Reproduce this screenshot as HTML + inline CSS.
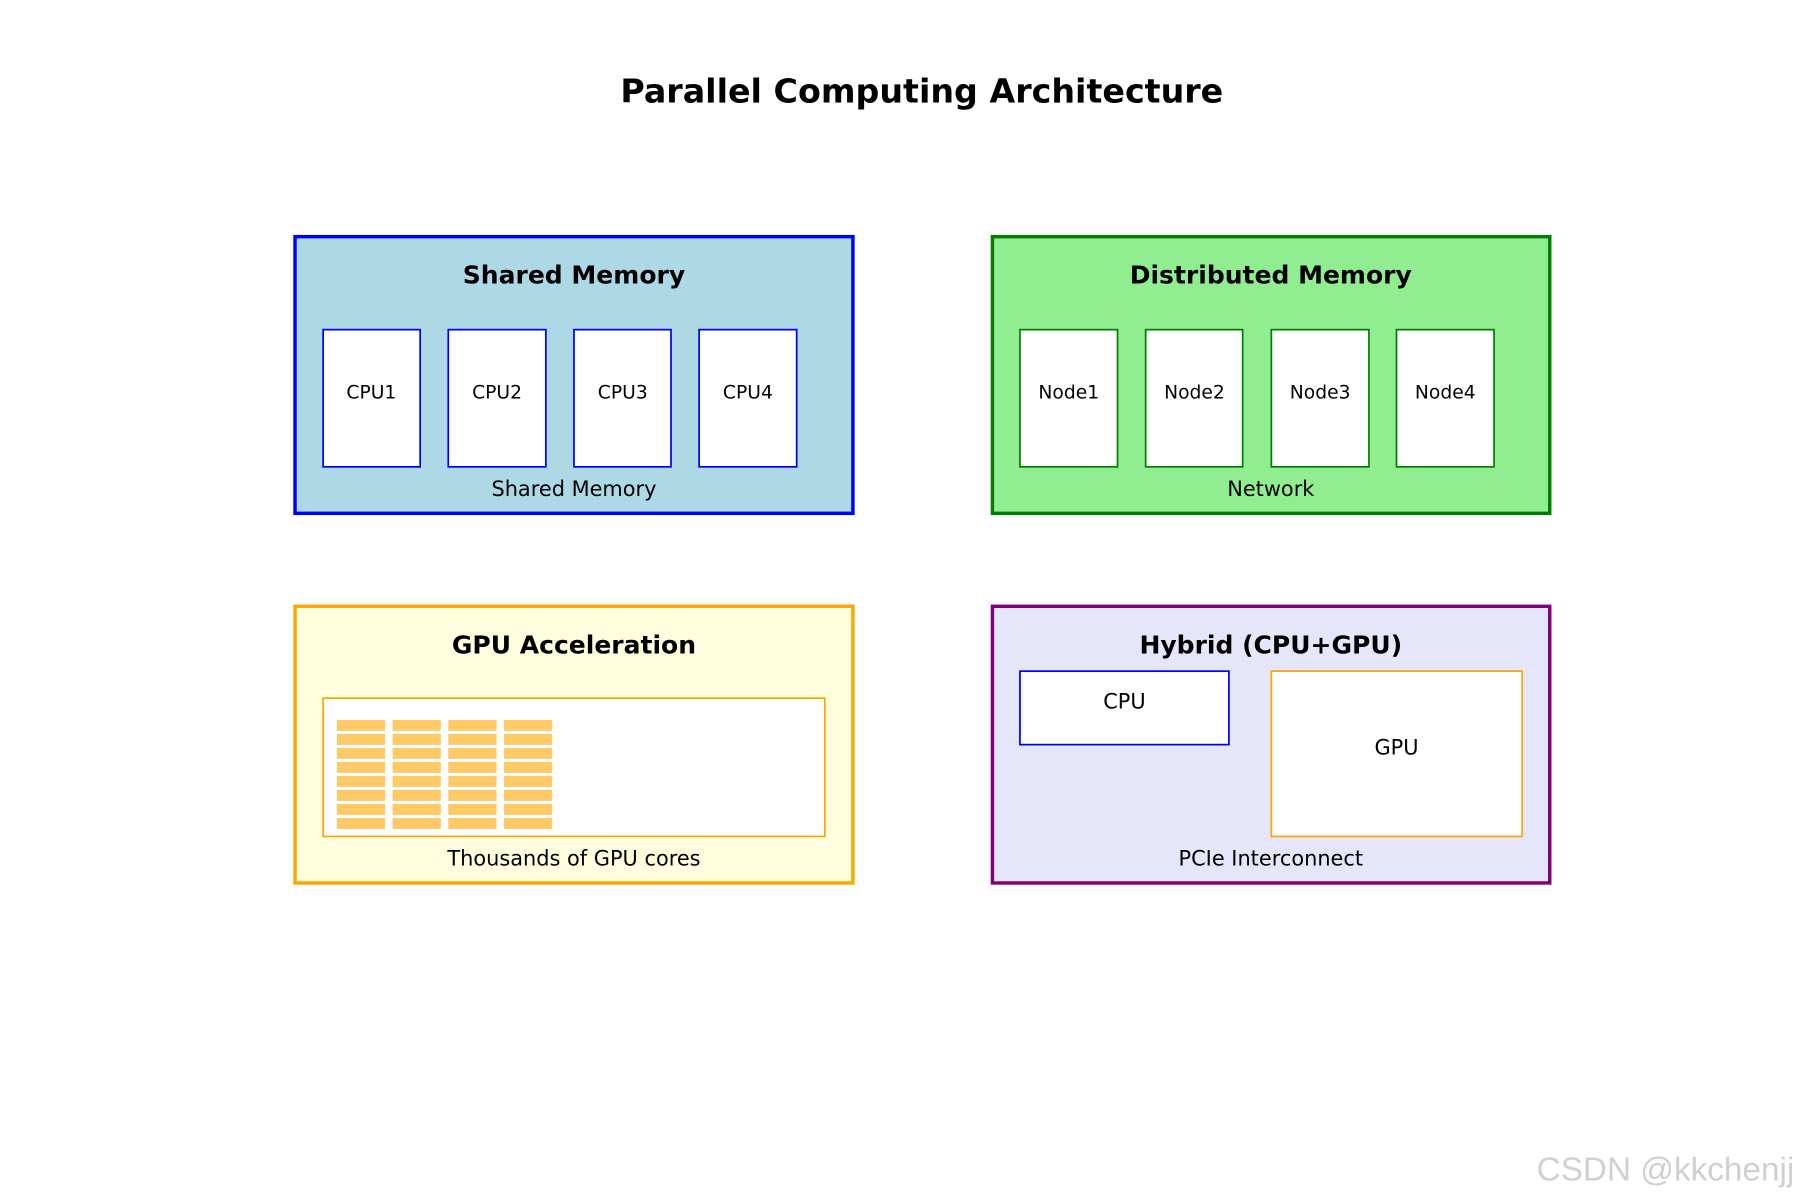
<!DOCTYPE html>
<html><head><meta charset="utf-8"><style>html,body{margin:0;padding:0;background:#fff}svg{display:block}</style></head><body>
<svg width="1800" height="1200" viewBox="0 0 1568 1045" xmlns="http://www.w3.org/2000/svg" font-family="DejaVu Sans, Liberation Sans, sans-serif">
<rect width="1568" height="1045" fill="#fff"/>
<text x="803" y="89" font-size="29" font-weight="bold" text-anchor="middle">Parallel Computing Architecture</text>

<rect x="257" y="206" width="486" height="241" fill="#add8e6" stroke="#0000ff" stroke-width="3"/>
<text x="500" y="247" font-size="21.8" font-weight="bold" text-anchor="middle">Shared Memory</text>
<g fill="#fff" stroke="#0000ff" stroke-width="1.5">
<rect x="281.5" y="287" width="84.5" height="119.5"/><rect x="390.5" y="287" width="85" height="119.5"/><rect x="500" y="287" width="84.5" height="119.5"/><rect x="609" y="287" width="85" height="119.5"/></g>
<g font-size="16.3" text-anchor="middle"><text x="323.5" y="347">CPU1</text><text x="433" y="347">CPU2</text><text x="542.5" y="347">CPU3</text><text x="651.5" y="347">CPU4</text></g>
<text x="500" y="432" font-size="18.2" text-anchor="middle">Shared Memory</text>

<rect x="864.5" y="206" width="485.5" height="241" fill="#90ee90" stroke="#008000" stroke-width="3"/>
<text x="1107" y="247" font-size="21.8" font-weight="bold" text-anchor="middle">Distributed Memory</text>
<g fill="#fff" stroke="#008000" stroke-width="1.5">
<rect x="888.5" y="287" width="85" height="119.5"/><rect x="998" y="287" width="84.5" height="119.5"/><rect x="1107.5" y="287" width="85" height="119.5"/><rect x="1216.5" y="287" width="85" height="119.5"/></g>
<g font-size="16.3" text-anchor="middle"><text x="931" y="347">Node1</text><text x="1040.5" y="347">Node2</text><text x="1150" y="347">Node3</text><text x="1259" y="347">Node4</text></g>
<text x="1107" y="432" font-size="18.2" text-anchor="middle">Network</text>

<rect x="257" y="528" width="486" height="241" fill="#ffffe0" stroke="#ffa500" stroke-width="3"/>
<text x="500" y="569" font-size="21.8" font-weight="bold" text-anchor="middle">GPU Acceleration</text>
<rect x="281.5" y="608" width="437" height="120.5" fill="#fff" stroke="#ffa500" stroke-width="1.5"/>
<g fill="#ffc966">
<g id="col"><rect x="293.5" y="627" width="42" height="9.5"/><rect x="293.5" y="639.2" width="42" height="9.5"/><rect x="293.5" y="651.4" width="42" height="9.5"/><rect x="293.5" y="663.6" width="42" height="9.5"/><rect x="293.5" y="675.8" width="42" height="9.5"/><rect x="293.5" y="688" width="42" height="9.5"/><rect x="293.5" y="700.2" width="42" height="9.5"/><rect x="293.5" y="712.4" width="42" height="9.5"/></g>
<use href="#col" x="48.5"/><use href="#col" x="97"/><use href="#col" x="145.5"/></g>
<text x="500" y="754" font-size="18.2" text-anchor="middle">Thousands of GPU cores</text>

<rect x="864.5" y="528" width="485.5" height="241" fill="#e6e6fa" stroke="#800080" stroke-width="3"/>
<text x="1107" y="569" font-size="21.8" font-weight="bold" text-anchor="middle">Hybrid (CPU+GPU)</text>
<rect x="888.5" y="584.5" width="182" height="64" fill="#fff" stroke="#0000ff" stroke-width="1.5"/>
<text x="979.5" y="617" font-size="18.2" text-anchor="middle">CPU</text>
<rect x="1107.5" y="584.5" width="218.5" height="144" fill="#fff" stroke="#ffa500" stroke-width="1.5"/>
<text x="1216.5" y="657" font-size="18.2" text-anchor="middle">GPU</text>
<text x="1107" y="754" font-size="18.2" text-anchor="middle">PCIe Interconnect</text>

<text x="1563" y="1028" font-size="29" fill="#d0d0d0" text-anchor="end" font-family="Liberation Sans, DejaVu Sans, sans-serif">CSDN @kkchenjj</text>
</svg>
</body></html>
